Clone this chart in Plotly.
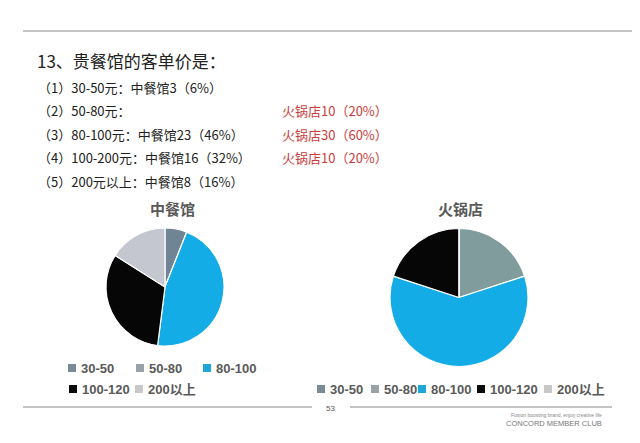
import plotly.graph_objects as go

# the page body has an 8px margin, so the figure is drawn 8px in from the window edge
OFF = 8
W, H = 640 - OFF, 443 - OFF

# data
categories = ["30-50", "50-80", "80-100", "100-120", "200以上"]
chinese_counts = [3, 0, 23, 16, 8]
hotpot_counts = [0, 10, 30, 10, 0]
range_labels = ["30-50元", "50-80元", "80-100元", "100-200元", "200元以上"]

chinese_colors = ["#6f8596", "#8fa3a8", "#14ace6", "#060606", "#c4c7cf"]
hotpot_colors = ["#6f8596", "#809c9c", "#14ace6", "#060606", "#c4c7cf"]
swatch_colors = ["#7a8a96", "#9aa3a6", "#1fa6d8", "#0a0a0a", "#c8c8c8"]

CJK = "Noto Sans CJK SC"
LEG_FONT = "Liberation Sans, Arial, Noto Sans CJK SC"


def px(x):
    # window pixel -> paper fraction
    return (x - OFF) / W


def py(y):
    return 1 - (y - OFF) / H


fig = go.Figure()

fig.add_trace(go.Pie(
    labels=categories, values=chinese_counts, sort=False, direction="clockwise",
    rotation=0, textinfo="none", hoverinfo="label+value+percent",
    marker=dict(colors=chinese_colors, line=dict(color="white", width=1.2)),
    domain=dict(x=[px(106), px(224)], y=[py(346), py(228)]),
    showlegend=False,
))
fig.add_trace(go.Pie(
    labels=categories, values=hotpot_counts, sort=False, direction="clockwise",
    rotation=0, textinfo="none", hoverinfo="label+value+percent",
    marker=dict(colors=hotpot_colors, line=dict(color="white", width=1.2)),
    domain=dict(x=[px(390), px(528)], y=[py(367), py(228)]),
    showlegend=False,
))

annotations = []
shapes = []


def add_text(x, y, text, size, color="#222222", family=CJK, anchor="left"):
    annotations.append(dict(
        x=px(x), y=py(y), xref="paper", yref="paper", text=text, showarrow=False,
        xanchor=anchor, yanchor="middle", font=dict(family=family, size=size, color=color),
    ))


# heading and answer lines
add_text(35, 61, "13、贵餐馆的客单价是：", 17)
total_c = sum(chinese_counts)
total_h = sum(hotpot_counts)
line_y = [87, 110, 134, 157, 181]
for i, rng in enumerate(range_labels):
    left = f"（{i + 1}）{rng}："
    if chinese_counts[i]:
        left += f"中餐馆{chinese_counts[i]}（{round(chinese_counts[i] * 100 / total_c)}%）"
    add_text(36, line_y[i], left, 13)
    if hotpot_counts[i]:
        add_text(280, line_y[i],
                 f"火锅店{hotpot_counts[i]}（{round(hotpot_counts[i] * 100 / total_h)}%）",
                 13, color="#cc3b3b")

# pie titles
add_text(172, 208, "<b>中餐馆</b>", 15, color="#595959", anchor="center")
add_text(460, 208, "<b>火锅店</b>", 15, color="#595959", anchor="center")

# legends (swatch x centre, row y)
left_legend = [(72, 368), (140, 368), (207, 368), (73, 389), (139, 389)]
right_legend = [(321, 389), (375, 389), (422, 389), (481, 389), (548, 389)]
for pos in (left_legend, right_legend):
    for (sx, sy), lab, col in zip(pos, categories, swatch_colors):
        shapes.append(dict(type="rect", xref="paper", yref="paper",
                           x0=px(sx - 4), x1=px(sx + 4), y0=py(sy + 4), y1=py(sy - 4),
                           fillcolor=col, line=dict(width=0)))
        add_text(sx + 7, sy, f"<b>{lab}</b>", 13, color="#595959", family=LEG_FONT)

# rules and footer
rules = [(23, 640, 31), (23, 312, 407), (350, 612, 407)]
for x0, x1, yy in rules:
    shapes.append(dict(type="line", xref="paper", yref="paper",
                       x0=px(x0), x1=px(x1), y0=py(yy), y1=py(yy),
                       line=dict(color="#8a8a8a", width=1)))
add_text(331, 408, "53", 8, color="#555555", family="Liberation Sans", anchor="center")
add_text(604, 415, "Fusion boosting brand, enjoy creative life", 5, color="#888888",
         family="Liberation Sans", anchor="right")
add_text(604, 423, "CONCORD MEMBER CLUB", 7.5, color="#777777",
         family="Liberation Sans", anchor="right")

fig.update_layout(
    width=W, height=H, margin=dict(l=0, r=0, t=0, b=0),
    paper_bgcolor="white", plot_bgcolor="white",
    annotations=annotations, shapes=shapes, showlegend=False,
)

fig.write_html("out.html")
